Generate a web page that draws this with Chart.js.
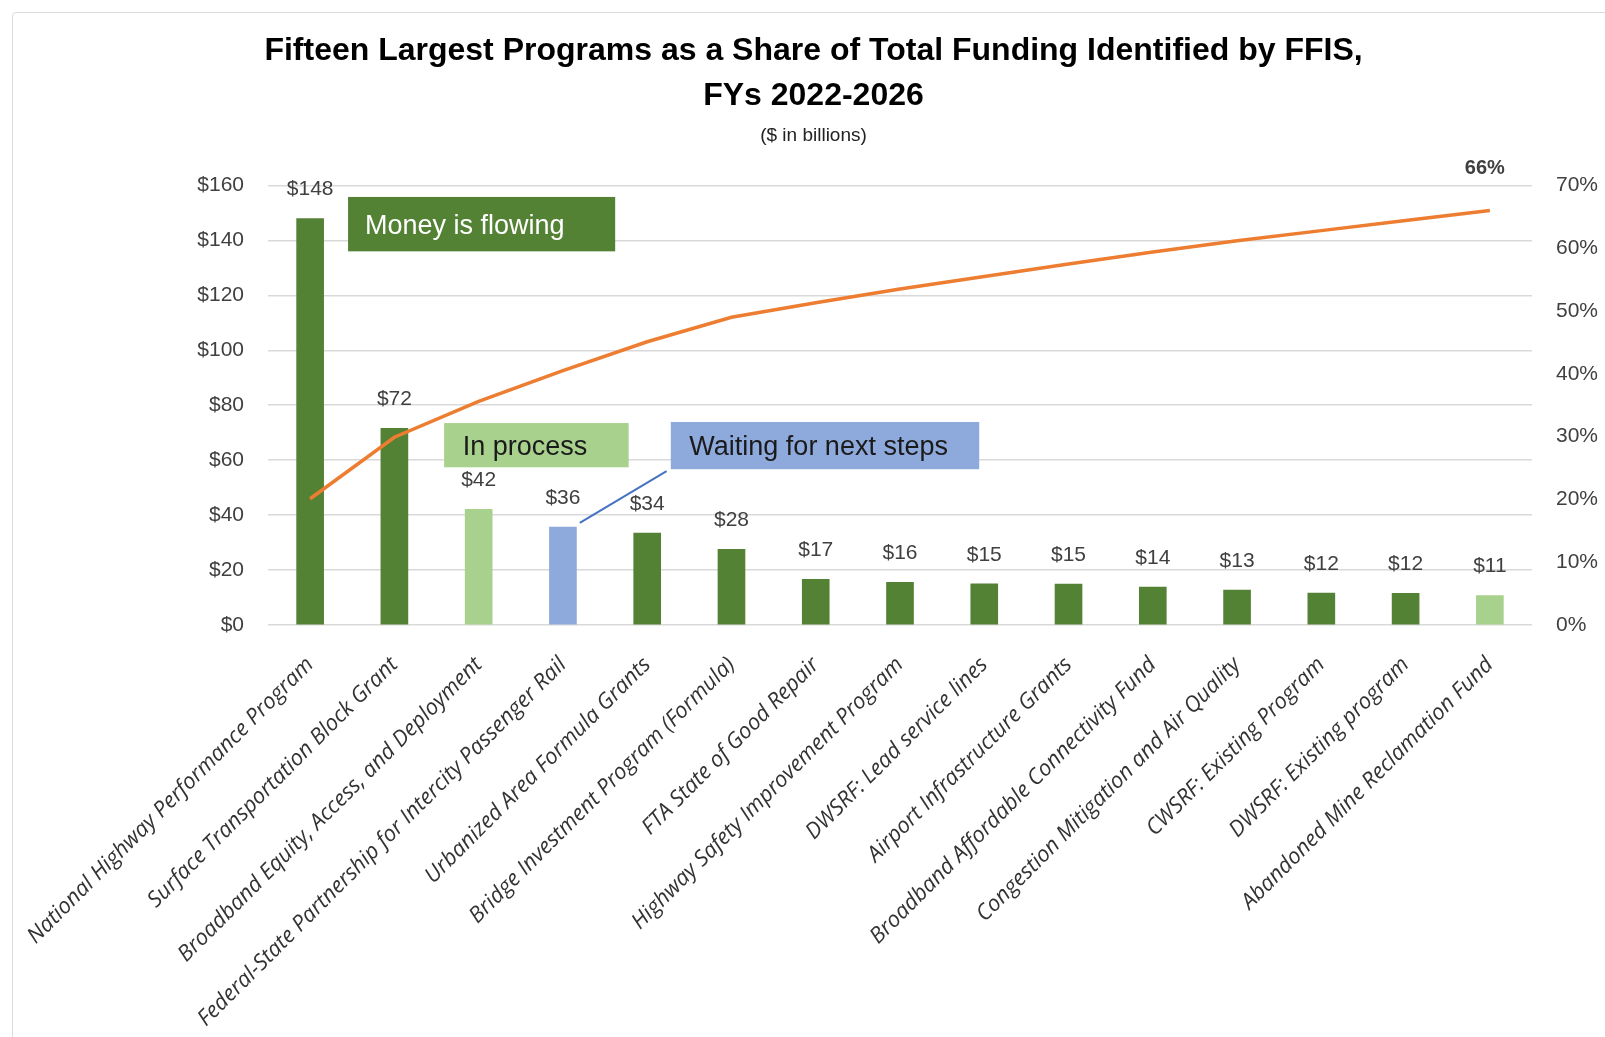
<!DOCTYPE html>
<html><head><meta charset="utf-8">
<script src="https://cdn.jsdelivr.net/npm/chart.js@4"></script>
<style>
html,body{margin:0;padding:0;background:#fff;overflow:hidden;}
#wrap{position:relative;width:1605px;height:1037px;}
#frame{position:absolute;left:12px;top:12px;width:1700px;height:1100px;border:1.5px solid #dcdcdc;border-radius:4px;pointer-events:none;}
canvas{position:absolute;left:0;top:0;}
</style></head>
<body><div id="wrap"><canvas id="c" width="1605" height="1037"></canvas><div id="frame"></div></div>
<script>
// ---- data ----
const categories = [
  'National Highway Performance Program',
  'Surface Transportation Block Grant',
  'Broadband Equity, Access, and Deployment',
  'Federal-State Partnership for Intercity Passenger Rail',
  'Urbanized Area Formula Grants',
  'Bridge Investment Program (Formula)',
  'FTA State of Good Repair',
  'Highway Safety Improvement Program',
  'DWSRF: Lead service lines',
  'Airport Infrastructure Grants',
  'Broadband Affordable Connectivity Fund',
  'Congestion Mitigation and Air Quality',
  'CWSRF: Existing Program',
  'DWSRF: Existing program',
  'Abandoned Mine Reclamation Fund'
];
const funding = [147.9, 71.6, 42.1, 35.6, 33.5, 27.5, 16.6, 15.5, 15.0, 14.9, 13.8, 12.7, 11.6, 11.5, 10.7];
const cumulativeShare = [20.1, 29.9, 35.6, 40.5, 45.1, 49.0, 51.3, 53.5, 55.5, 57.5, 59.4, 61.2, 62.8, 64.4, 66.0];
const status = ['flowing','flowing','process','waiting','flowing','flowing','flowing','flowing','flowing','flowing','flowing','flowing','flowing','flowing','process'];
const fundingTicks = [0, 20, 40, 60, 80, 100, 120, 140, 160];
const shareTicks = [0, 10, 20, 30, 40, 50, 60, 70];
const titleLines = ['Fifteen Largest Programs as a Share of Total Funding Identified by FFIS,', 'FYs 2022-2026'];
const subtitleText = '($ in billions)';
const annotationTexts = {flowing:'Money is flowing', process:'In process', waiting:'Waiting for next steps'};

// ---- styles ----
const colorFor = {flowing:'#548235', process:'#A9D18E', waiting:'#8EA9DB'};
const textColorFor = {flowing:'#ffffff', process:'#1a1a1a', waiting:'#1a1a1a'};
// annotation boxes placed in scale units (category index, $ value)
const boxes = [
  {key:'flowing', x0:0.45, x1:3.62, y0:155.8, y1:136.0, textX:0.65},
  {key:'process', x0:1.59, x1:3.78, y0:73.5, y1:57.4, textX:1.81},
  {key:'waiting', x0:4.28, x1:7.94, y0:73.9, y1:56.7, textX:4.50}
];
const connector = {x0:3.20, y0:37.2, x1:4.23, y1:56.0};

Chart.defaults.font.family = "'Liberation Sans', Arial, sans-serif";
Chart.defaults.color = '#404040';

const overlay = {
  id:'overlay',
  afterDatasetsDraw(chart){
    const ctx = chart.ctx;
    const x = chart.scales.x, y = chart.scales.y;
    ctx.save();
    // annotation boxes
    boxes.forEach(b=>{
      const px0 = x.getPixelForValue(b.x0), px1 = x.getPixelForValue(b.x1);
      const py0 = y.getPixelForValue(b.y0), py1 = y.getPixelForValue(b.y1);
      ctx.fillStyle = colorFor[b.key];
      ctx.fillRect(px0, py0, px1-px0, py1-py0);
      ctx.fillStyle = textColorFor[b.key];
      ctx.font = "27px 'Liberation Sans', Arial, sans-serif";
      ctx.textAlign = 'left';
      ctx.textBaseline = 'middle';
      ctx.fillText(annotationTexts[b.key], x.getPixelForValue(b.textX), (py0+py1)/2 + 2);
    });
    // connector
    ctx.strokeStyle = '#4472C4';
    ctx.lineWidth = 2;
    ctx.beginPath();
    ctx.moveTo(x.getPixelForValue(connector.x0), y.getPixelForValue(connector.y0));
    ctx.lineTo(x.getPixelForValue(connector.x1), y.getPixelForValue(connector.y1));
    ctx.stroke();
    // bar value labels
    const barMeta = chart.getDatasetMeta(1);
    ctx.font = "21px 'Liberation Sans', Arial, sans-serif";
    ctx.fillStyle = '#404040';
    ctx.textAlign = 'center';
    ctx.textBaseline = 'middle';
    barMeta.data.forEach((el,i)=>{
      ctx.fillText('$' + Math.round(funding[i]), el.x, el.y - 29);
    });
    // last point label
    const lineMeta = chart.getDatasetMeta(0);
    const last = lineMeta.data[lineMeta.data.length-1];
    ctx.font = "bold 20px 'Liberation Sans', Arial, sans-serif";
    ctx.fillStyle = '#404040';
    ctx.fillText(Math.round(cumulativeShare[cumulativeShare.length-1]) + '%', last.x - 5, last.y - 42);
    ctx.restore();
  }
};

new Chart(document.getElementById('c'), {
  data:{
    labels:categories,
    datasets:[
      {type:'line', label:'Cumulative share', data:cumulativeShare, yAxisID:'yShare',
       borderColor:'#ED7D31', borderWidth:3.5, pointRadius:0, tension:0, order:0},
      {type:'bar', label:'Funding', data:funding, yAxisID:'y',
       backgroundColor:status.map(s=>colorFor[s]), barThickness:27, order:1}
    ]
  },
  options:{
    responsive:false, animation:false, devicePixelRatio:1,
    layout:{padding:{left:22, right:0, top:0, bottom:0}},
    plugins:{
      legend:{display:false},
      tooltip:{enabled:false},
      title:{display:true, text:titleLines, color:'#000',
        font:{size:32, weight:'bold', lineHeight:1.4}, padding:{top:29, bottom:0}},
      subtitle:{display:true, text:subtitleText, color:'#222',
        font:{size:19, lineHeight:1.2}, padding:{top:6, bottom:38}}
    },
    scales:{
      x:{
        grid:{display:false}, border:{display:false},
        ticks:{autoSkip:false, maxRotation:45, minRotation:45, padding:19, color:'#333',
          font:{family:"'Open Sans', sans-serif", style:'italic', size:22}},
        afterFit(s){ s.height = 412; }
      },
      y:{
        position:'left', min:0, max:160,
        afterBuildTicks(s){ s.ticks = fundingTicks.map(v=>({value:v})); },
        ticks:{padding:24, color:'#404040', font:{size:21}, callback:v=>'$'+v},
        grid:{color:'#d9d9d9', lineWidth:1.5, drawTicks:false},
        border:{display:false},
        afterFit(s){ s.width = 246; }
      },
      yShare:{
        position:'right', min:0, max:70,
        afterBuildTicks(s){ s.ticks = shareTicks.map(v=>({value:v})); },
        ticks:{padding:16, color:'#404040', font:{size:21}, callback:v=>v+'%'},
        grid:{display:false}, border:{display:false},
        afterFit(s){ s.width = 73; }
      }
    }
  },
  plugins:[overlay]
});
</script>
</body></html>
